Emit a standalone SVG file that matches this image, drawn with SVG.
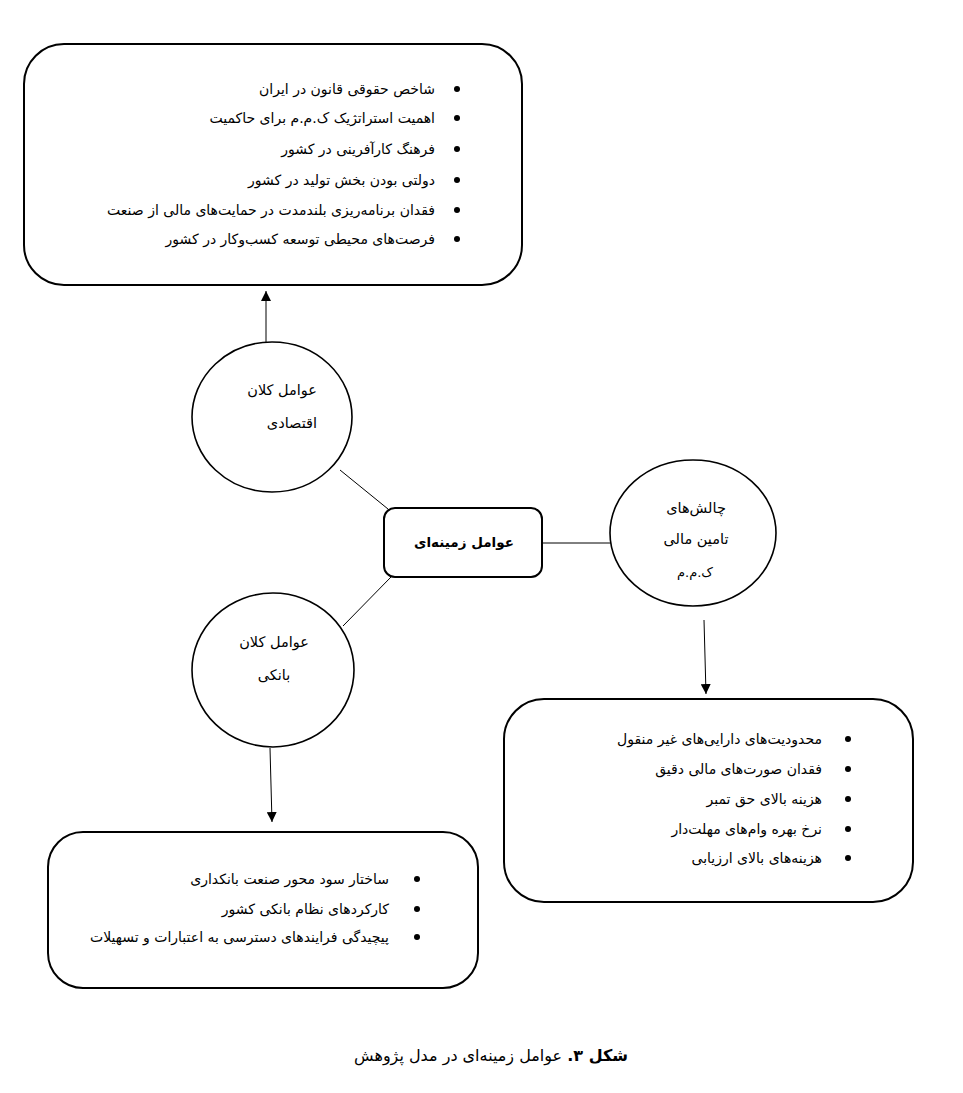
<svg xmlns="http://www.w3.org/2000/svg" width="963" height="1093" viewBox="0 0 963 1093">
<style>
.box{fill:#fff;stroke:#000;stroke-width:2}
.ell{fill:#fff;stroke:#000;stroke-width:1.6}
.con line{stroke:#000;stroke-width:1}
.t{font-family:"DejaVu Sans",sans-serif;font-size:14px;fill:#000;direction:rtl;text-anchor:start}
.c{font-family:"DejaVu Sans",sans-serif;font-size:14.5px;fill:#000;direction:rtl;text-anchor:middle}
.b{fill:#000}
</style>
<defs>
<marker id="ah" viewBox="0 0 10 10" refX="10" refY="5" markerWidth="10" markerHeight="10" markerUnits="userSpaceOnUse" orient="auto">
<path d="M0,0 L10,5 L0,10 Z" fill="#000"/>
</marker>
</defs>
<rect width="963" height="1093" fill="#fff"/>
<g id="connectors" class="con">
<line x1="266" y1="342" x2="266" y2="291" marker-end="url(#ah)"/>
<line x1="340" y1="470" x2="388" y2="509"/>
<line x1="391" y1="577" x2="343" y2="626"/>
<line x1="542" y1="543" x2="611" y2="543"/>
<line x1="704" y1="620" x2="706" y2="694" marker-end="url(#ah)"/>
<line x1="270" y1="748" x2="272" y2="822" marker-end="url(#ah)"/>
</g>
<g id="top-box">
<rect class="box" x="24" y="44" width="498" height="241" rx="40"/>
<circle class="b" cx="457" cy="89" r="3"/>
<circle class="b" cx="457" cy="118" r="3"/>
<circle class="b" cx="457" cy="149" r="3"/>
<circle class="b" cx="457" cy="180" r="3"/>
<circle class="b" cx="457" cy="210" r="3"/>
<circle class="b" cx="457" cy="239" r="3"/>
<text class="t" x="435" y="94">شاخص حقوقی قانون در ایران</text>
<text class="t" x="435" y="123">اهمیت استراتژیک ک.م.م برای حاکمیت</text>
<text class="t" x="435" y="154">فرهنگ کارآفرینی در کشور</text>
<text class="t" x="435" y="185">دولتی بودن بخش تولید در کشور</text>
<text class="t" x="435" y="215">فقدان برنامه‌ریزی بلندمدت در حمایت‌های مالی از صنعت</text>
<text class="t" x="435" y="244">فرصت‌های محیطی توسعه کسب‌وکار در کشور</text>
</g>
<g id="ellipse-economic">
<ellipse class="ell" cx="272" cy="417" rx="80" ry="75"/>
<text class="t" x="317" y="395" style="font-size:14.5px">عوامل کلان</text>
<text class="t" x="317" y="428" style="font-size:14.5px">اقتصادی</text>
</g>
<g id="center">
<rect class="box" x="384" y="508" width="158" height="69" rx="11"/>
<text class="c" x="464" y="547" style="font-size:13.5px;font-weight:bold">عوامل زمینه‌ای</text>
</g>
<g id="ellipse-finance">
<ellipse class="ell" cx="693" cy="533" rx="83" ry="73"/>
<text class="c" x="696" y="513">چالش‌های</text>
<text class="c" x="696" y="544">تامین مالی</text>
<text class="c" x="695" y="577" style="font-size:13px">ک.م.م</text>
</g>
<g id="right-box">
<rect class="box" x="504" y="699" width="409" height="203" rx="40"/>
<circle class="b" cx="848" cy="739" r="3"/>
<circle class="b" cx="848" cy="769" r="3"/>
<circle class="b" cx="848" cy="799" r="3"/>
<circle class="b" cx="848" cy="829" r="3"/>
<circle class="b" cx="848" cy="858" r="3"/>
<text class="t" x="822" y="744">محدودیت‌های دارایی‌های غیر منقول</text>
<text class="t" x="822" y="774">فقدان صورت‌های مالی دقیق</text>
<text class="t" x="822" y="804">هزینه بالای حق تمبر</text>
<text class="t" x="822" y="834">نرخ بهره وام‌های مهلت‌دار</text>
<text class="t" x="822" y="863">هزینه‌های بالای ارزیابی</text>
</g>
<g id="ellipse-bank">
<ellipse class="ell" cx="273" cy="670" rx="81" ry="77"/>
<text class="c" x="274" y="647">عوامل کلان</text>
<text class="c" x="274" y="680">بانکی</text>
</g>
<g id="bottom-box">
<rect class="box" x="48" y="832" width="430" height="156" rx="35"/>
<circle class="b" cx="417" cy="879" r="3"/>
<circle class="b" cx="417" cy="909" r="3"/>
<circle class="b" cx="417" cy="937" r="3"/>
<text class="t" x="389" y="884">ساختار سود محور صنعت بانکداری</text>
<text class="t" x="389" y="914">کارکردهای نظام بانکی کشور</text>
<text class="t" x="389" y="942">پیچیدگی فرایندهای دسترسی به اعتبارات و تسهیلات</text>
</g>
<g id="caption">
<text class="c" x="491" y="1061" style="font-size:16px"><tspan font-weight="bold">شکل ۳.</tspan> عوامل زمینه‌ای در مدل پژوهش</text>
</g>
</svg>
